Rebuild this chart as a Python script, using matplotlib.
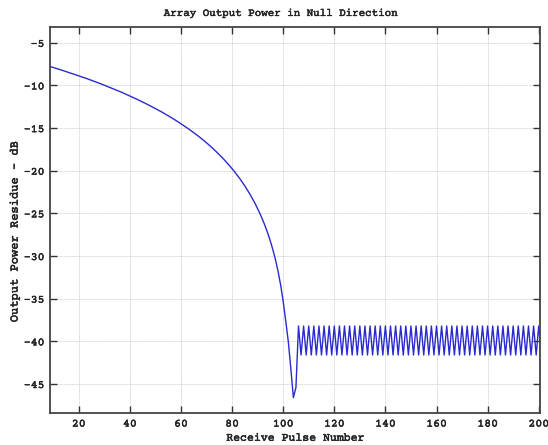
import matplotlib
matplotlib.use("Agg")
import matplotlib.pyplot as plt
import matplotlib.patheffects as pe

# Smooth decline toward the null
pulse_a = [9, 11, 13, 15, 17, 19, 21, 23, 25, 27, 29, 31, 33, 35, 37, 39, 41, 43, 45,
           47, 49, 51, 53, 55, 57, 59, 61, 63, 65, 67, 69, 71, 73, 75, 77, 79, 81, 83,
           85, 87, 89, 91, 92, 93, 94, 95, 96, 97, 98, 99, 100, 101, 102, 103, 104, 105]
power_a = [-7.80, -7.98, -8.17, -8.37, -8.56, -8.77, -8.97, -9.18, -9.40, -9.62,
           -9.85, -10.09, -10.33, -10.58, -10.83, -11.10, -11.37, -11.65, -11.94,
           -12.24, -12.55, -12.87, -13.20, -13.55, -13.91, -14.29, -14.69, -15.10,
           -15.53, -15.99, -16.47, -16.98, -17.53, -18.11, -18.73, -19.40, -20.12,
           -20.91, -21.78, -22.75, -23.83, -25.08, -25.77, -26.53, -27.35, -28.27,
           -29.29, -30.45, -31.79, -33.38, -35.31, -37.6, -40.0, -43.2, -46.6, -45.4]

# Oscillating tail, pulses 106..201
pulse_b = list(range(106, 202))
power_b = [
    -38.2, -41.6, -38.2, -41.6, -38.2, -41.6, -38.2, -41.6, -38.2, -41.6,
    -38.2, -41.6, -38.2, -41.6, -38.2, -41.6, -38.2, -41.6, -38.2, -41.6,
    -38.2, -41.6, -38.2, -41.6, -38.2, -41.6, -38.2, -41.6, -38.2, -41.6,
    -38.2, -41.6, -38.2, -41.6, -38.2, -41.6, -38.2, -41.6, -38.2, -41.6,
    -38.2, -41.6, -38.2, -41.6, -38.2, -41.6, -38.2, -41.6, -38.2, -41.6,
    -38.2, -41.6, -38.2, -41.6, -38.2, -41.6, -38.2, -41.6, -38.2, -41.6,
    -38.2, -41.6, -38.2, -41.6, -38.2, -41.6, -38.2, -41.6, -38.2, -41.6,
    -38.2, -41.6, -38.2, -41.6, -38.2, -41.6, -38.2, -41.6, -38.2, -41.6,
    -38.2, -41.6, -38.2, -41.6, -38.2, -41.6, -38.2, -41.6, -38.2, -41.6,
    -38.2, -41.6, -38.2, -41.6, -38.2, -41.6,
]

x_ticks = [20, 40, 60, 80, 100, 120, 140, 160, 180, 200]
y_ticks = [-45, -40, -35, -30, -25, -20, -15, -10, -5]

title = "Array Output Power in Null Direction"
xlabel = "Receive Pulse Number"
ylabel = "Output Power Residue - dB"

plt.rcParams['font.family'] = ['Courier Prime', 'FreeMono', 'Liberation Mono', 'DejaVu Sans Mono']
plt.rcParams['axes.unicode_minus'] = False

txt_color = '#222222'
stroke = [pe.withStroke(linewidth=0.35, foreground=txt_color)]

fig = plt.figure(figsize=(5.48, 4.45), dpi=100)
ax = fig.add_axes([0.0912, 0.0719, 0.8942, 0.8674])

x = pulse_a + pulse_b
y = power_a + power_b
ax.plot(x, y, color='#2a2ad0', lw=1.0)

ax.set_xlim(8.75, 200.5)
ax.set_ylim(-48.4, -3.15)
ax.set_xticks(x_ticks)
ax.set_yticks(y_ticks)
ax.set_yticklabels([f"-{abs(v)}" for v in y_ticks])

ax.grid(True, color='#c4c4c4', linestyle=(0, (1, 1)), linewidth=0.6)
ax.tick_params(direction='in', length=5, width=1.0, top=True, right=True,
               labelsize=8.3, colors='#333333', labelcolor=txt_color, pad=4)
for s in ax.spines.values():
    s.set_color('#444444')
    s.set_linewidth(1.3)

ax.set_title(title, fontsize=7.8, color=txt_color, x=0.471, pad=8)
ax.set_xlabel(xlabel, fontsize=8.3, color=txt_color, labelpad=3)
ax.set_ylabel(ylabel, fontsize=8.7, color=txt_color)
ax.yaxis.set_label_coords(-0.062, 0.47)

for t in ([ax.title, ax.xaxis.label, ax.yaxis.label]
          + ax.get_xticklabels() + ax.get_yticklabels()):
    t.set_path_effects(stroke)

fig.savefig("out.png", dpi=100)
